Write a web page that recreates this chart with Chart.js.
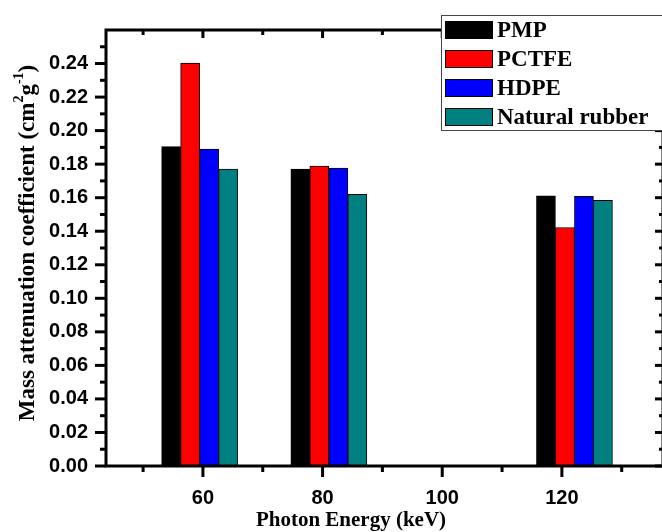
<!DOCTYPE html>
<html>
<head>
<meta charset="utf-8">
<script src="https://cdn.jsdelivr.net/npm/chart.js@4.4.1/dist/chart.umd.min.js"></script>
<style>
  html, body { margin: 0; padding: 0; background: #fff; overflow: hidden; }
  canvas { display: block; }
</style>
</head>
<body>
<canvas id="chart" width="672" height="532"></canvas>
<script>
const barPositions = [59.45, 81.05, 122.1];
const xTicks = [60, 80, 100, 120];
const yTicks = [0, 0.02, 0.04, 0.06, 0.08, 0.10, 0.12, 0.14, 0.16, 0.18, 0.20, 0.22, 0.24];

const seriesNames = ['PMP', 'PCTFE', 'HDPE', 'Natural rubber'];
const pmp = [0.1905, 0.1771, 0.1611];
const pctfe = [0.2402, 0.1788, 0.1422];
const hdpe = [0.1890, 0.1777, 0.1608];
const rubber = [0.1771, 0.1620, 0.1585];
const seriesValues = [pmp, pctfe, hdpe, rubber];
const seriesColors = ['#000000', '#ff0000', '#0000ff', '#008080'];

const serif = '"Liberation Serif", "Times New Roman", serif';
const sans = '"Liberation Sans", Arial, sans-serif';

function line(ctx, x1, y1, x2, y2, w) {
    ctx.lineWidth = w;
    ctx.beginPath();
    ctx.moveTo(x1, y1);
    ctx.lineTo(x2, y2);
    ctx.stroke();
}

// axis box with inner/outer major and minor ticks
const frame = {
    id: 'frame',
    afterDatasetsDraw(chart) {
        const { ctx, chartArea: a, scales: { x, y } } = chart;
        ctx.save();
        ctx.strokeStyle = '#000';
        for (let v = 50; v <= 130; v += 10) {
            const px = x.getPixelForValue(v);
            const major = v % 20 === 0;
            line(ctx, px, a.bottom, px, a.bottom + (major ? 11 : 6), 3);
            line(ctx, px, a.top, px, a.top + (major ? 8 : 5), 3);
        }
        for (let i = 0; i <= 25; i++) {
            const py = y.getPixelForValue(i / 100);
            const major = i % 2 === 0;
            line(ctx, a.left, py, a.left - (major ? 11 : 6), py, 3);
            line(ctx, a.right, py, a.right - (major ? 8 : 4), py, 3);
        }
        ctx.lineWidth = 3;
        ctx.strokeRect(a.left, a.top, a.right - a.left, a.bottom - a.top);
        ctx.restore();
    }
};

// legend box, axis titles
const decor = {
    id: 'decor',
    afterDraw(chart) {
        const ctx = chart.ctx;
        ctx.save();

        // legend
        ctx.fillStyle = '#fff';
        ctx.fillRect(441, 13, 240, 118);
        ctx.strokeStyle = '#444';
        ctx.lineWidth = 1;
        ctx.strokeRect(441.5, 15.5, 240, 115);
        ctx.font = 'bold 23px ' + serif;
        ctx.textBaseline = 'alphabetic';
        ctx.textAlign = 'left';
        seriesNames.forEach((name, i) => {
            const top = 21 + i * 29;
            ctx.fillStyle = seriesColors[i];
            ctx.fillRect(445, top, 48, 18);
            ctx.strokeStyle = '#000';
            ctx.strokeRect(445.5, top + 0.5, 47, 17);
            ctx.fillStyle = '#000';
            ctx.fillText(name, 497, top + 16);
        });

        // x title
        ctx.fillStyle = '#000';
        ctx.font = 'bold 21px ' + serif;
        ctx.textAlign = 'center';
        ctx.fillText('Photon Energy (keV)', 351, 526);

        // y title with superscripts
        ctx.translate(34, 243);
        ctx.rotate(-Math.PI / 2);
        ctx.textAlign = 'left';
        const main = 'bold 23px ' + serif;
        const sup = 'bold 14px ' + serif;
        const parts = [
            ['Mass attenuation coefficient (cm', main, 0],
            ['2', sup, -11],
            ['g', main, 0],
            ['-1', sup, -11],
            [')', main, 0]
        ];
        let total = 0;
        parts.forEach(p => { ctx.font = p[1]; total += ctx.measureText(p[0]).width; });
        let cx = -total / 2;
        parts.forEach(p => {
            ctx.font = p[1];
            ctx.fillText(p[0], cx, p[2]);
            cx += ctx.measureText(p[0]).width;
        });
        ctx.restore();
    }
};

new Chart(document.getElementById('chart'), {
    type: 'bar',
    data: {
        datasets: seriesNames.map((name, i) => ({
            label: name,
            data: barPositions.map((xv, j) => ({ x: xv, y: seriesValues[i][j] })),
            backgroundColor: seriesColors[i],
            borderColor: '#000',
            borderWidth: 1,
            barThickness: 19
        }))
    },
    options: {
        responsive: false,
        animation: false,
        layout: { padding: { top: 15, right: 9, left: 0, bottom: 0 } },
        plugins: { legend: { display: false }, tooltip: { enabled: false } },
        scales: {
            x: {
                type: 'linear',
                min: 43.8,
                max: 136.9,
                offset: false,
                grid: { display: false, drawTicks: false },
                border: { display: false },
                afterBuildTicks: s => { s.ticks = xTicks.map(v => ({ value: v })); },
                afterFit: s => { s.height = 66; },
                ticks: {
                    padding: 20,
                    maxRotation: 0,
                    autoSkip: false,
                    color: '#000',
                    font: { family: sans, size: 20, weight: 'bold' }
                }
            },
            y: {
                min: 0,
                max: 0.26,
                grid: { display: false, drawTicks: false },
                border: { display: false },
                afterBuildTicks: s => { s.ticks = yTicks.map(v => ({ value: v })); },
                afterFit: s => { s.width = 106; },
                ticks: {
                    padding: 18,
                    color: '#000',
                    callback: v => v.toFixed(2),
                    font: { family: sans, size: 20, weight: 'bold' }
                }
            }
        }
    },
    plugins: [frame, decor]
});
</script>
</body>
</html>
